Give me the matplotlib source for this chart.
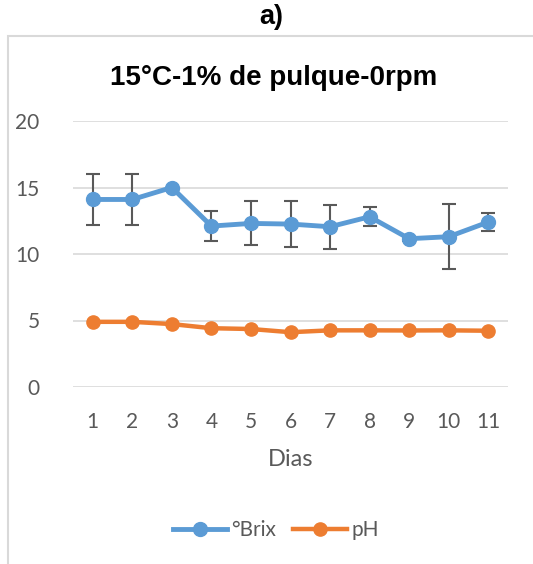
import matplotlib.pyplot as plt
from matplotlib.patches import Rectangle

dias = [1, 2, 3, 4, 5, 6, 7, 8, 9, 10, 11]
brix = [14.1, 14.1, 15.0, 12.1, 12.3, 12.25, 12.05, 12.8, 11.15, 11.3, 12.4]
brix_err = [1.95, 1.9, 0.0, 1.15, 1.65, 1.75, 1.65, 0.7, 0.15, 2.45, 0.68]
ph = [4.9, 4.9, 4.73, 4.42, 4.36, 4.12, 4.26, 4.26, 4.25, 4.26, 4.23]

blue = '#5B9BD5'
orange = '#ED7D31'
grey_txt = '#595959'

fig = plt.figure(figsize=(5.33, 5.64), dpi=100)

# chart frame (runs off the right and bottom edges like the source)
fig.patches.append(Rectangle((8 / 533, -0.05), 1.0, 1 - 36 / 564 + 0.05,
                             transform=fig.transFigure, fill=False,
                             edgecolor='#d9d9d9', lw=1.5))

ax = fig.add_axes([73 / 533, 1 - 387 / 564, 435 / 533, 266 / 564])

ax.errorbar(dias, brix, yerr=brix_err, fmt='none', ecolor=grey_txt,
            elinewidth=1.5, capsize=5, capthick=1.5, zorder=2)
ax.plot(dias, brix, color=blue, lw=3.5, marker='o', ms=10, label='°Brix', zorder=3)
ax.plot(dias, ph, color=orange, lw=3.2, marker='o', ms=9.5, label='pH', zorder=3)

ax.set_xlim(0.5, 11.5)
ax.set_ylim(0, 20)
ax.set_yticks([0, 5, 10, 15, 20])
ax.set_xticks(dias)
ax.grid(axis='y', color='#d9d9d9', lw=1.2)
ax.set_axisbelow(True)
for s in ax.spines.values():
    s.set_visible(False)
ax.tick_params(length=0, labelsize=15, labelcolor=grey_txt)
for lab in ax.get_xticklabels() + ax.get_yticklabels():
    lab.set_family('Lato')
ax.tick_params(axis='x', pad=18)
ax.tick_params(axis='y', pad=24)
ax.set_xlabel('Dias', fontsize=17, color=grey_txt, family='Lato', labelpad=12)

fig.text(271 / 533, 1 - 17 / 564, 'a)', ha='center', va='center',
         fontsize=19.5, fontweight='bold', family='Liberation Sans')
fig.text(274 / 533, 1 - 78 / 564, '15°C-1% de pulque-0rpm', ha='center',
         va='center', fontsize=20, fontweight='bold', family='Liberation Sans')

h, l = ax.get_legend_handles_labels()
leg = fig.legend(h, l, loc='center', bbox_to_anchor=(276 / 533, 1 - 530 / 564),
                 ncol=2, frameon=False, handlelength=2.6, columnspacing=0.8,
                 handletextpad=0.2, prop={'family': 'Lato', 'size': 15})
for t in leg.get_texts():
    t.set_color(grey_txt)

fig.savefig('out.png', dpi=100)
